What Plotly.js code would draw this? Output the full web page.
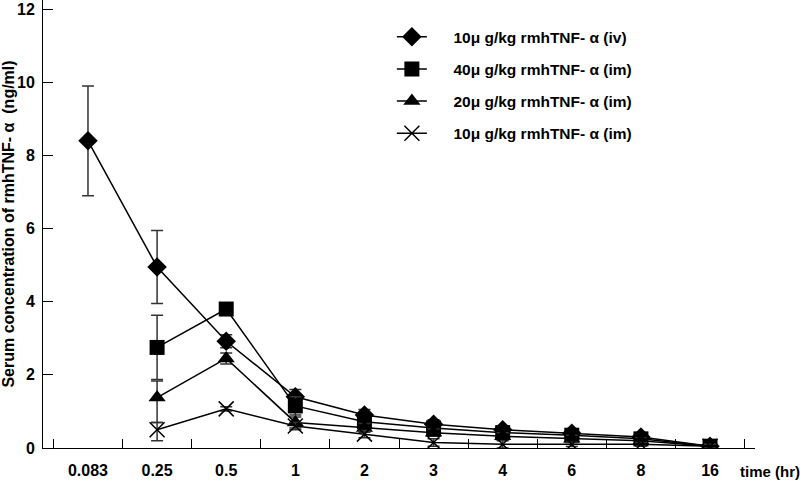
<!DOCTYPE html>
<html>
<head>
<meta charset="utf-8">
<script src="https://cdn.plot.ly/plotly-3.0.1.min.js"></script>
<style>
  body { margin: 0; background: #fff; }
  #plotArea { width: 800px; height: 484px; }
</style>
</head>
<body>
<div id="plotArea"></div>
<script>
// sampling times (hr), shown as categories
var times = ["0.083", "0.25", "0.5", "1", "2", "3", "4", "6", "8", "16"];

// serum rmhTNF-a (ng/ml), mean and error
var iv10 = [8.4, 4.95, 2.92, 1.4, 0.9, 0.65, 0.5, 0.4, 0.3, 0.05];
var iv10Err = [1.5, 1.0, 0.18, 0.2, 0.15, 0.12, 0.1, 0.1, 0.1, 0.05];

var im40 = [null, 2.75, 3.8, 1.15, 0.72, 0.55, 0.42, 0.35, 0.25, 0.05];
var im40Err = [null, 0.88, 0.1, 0.25, 0.15, 0.12, 0.1, 0.1, 0.1, 0.05];

var im20 = [null, 1.38, 2.45, 0.7, 0.55, 0.42, 0.32, 0.25, 0.2, 0.05];
var im20Err = [null, 0.45, 0.15, 0.15, 0.12, 0.1, 0.1, 0.1, 0.08, 0.05];
var im20ErrMinus = [null, 0.68, 0.15, 0.15, 0.12, 0.1, 0.1, 0.1, 0.08, 0.05];

var im10 = [null, 0.5, 1.07, 0.6, 0.38, 0.15, 0.1, 0.1, 0.1, 0.05];
var im10Err = [null, 0.2, 0.06, 0.1, 0.1, 0.1, 0.1, 0.06, 0.05, 0.05];
var im10ErrMinus = [null, 0.3, 0.06, 0.1, 0.1, 0.1, 0.1, 0.06, 0.05, 0.05];

var pad = "\u00a0\u00a0\u00a0\u00a0\u00a0";
var names = [
  pad + "10\u03bc g/kg rmhTNF- \u03b1 (iv)",
  pad + "40\u03bc g/kg rmhTNF- \u03b1 (im)",
  pad + "20\u03bc g/kg rmhTNF- \u03b1 (im)",
  pad + "10\u03bc g/kg rmhTNF- \u03b1 (im)"
];

var font = { family: "Liberation Sans, Arial, sans-serif", color: "#000", weight: "bold" };

function makeTrace(y, err, errMinus, name, symbol, size, group) {
  return {
    x: times,
    y: y,
    name: name,
    legendgroup: group,
    type: "scatter",
    mode: "lines+markers",
    line: { color: "#000", width: 1.5 },
    marker: {
      symbol: symbol,
      size: size,
      color: "#000",
      line: { color: "#000", width: symbol === "x-thin" ? 1.5 : 0 }
    },
    error_y: {
      type: "data",
      symmetric: false,
      array: err,
      arrayminus: errMinus,
      visible: true,
      color: "#333",
      thickness: 1.5,
      width: 6
    }
  };
}

var data = [
  makeTrace(iv10, iv10Err, iv10Err, names[0], "diamond", 15, "a"),
  makeTrace(im40, im40Err, im40Err, names[1], "square", 15, "b"),
  makeTrace(im20, im20Err, im20ErrMinus, names[2], "triangle-up", 15, "c"),
  makeTrace(im10, im10Err, im10ErrMinus, names[3], "x-thin", 15, "d")
];

var layout = {
  width: 800,
  height: 484,
  margin: { l: 43, r: 45, t: 0, b: 36 },
  paper_bgcolor: "#fff",
  plot_bgcolor: "#fff",
  showlegend: true,
  legend: {
    x: 0.49,
    y: 0.955,
    xanchor: "left",
    yanchor: "top",
    font: Object.assign({}, font, { size: 15.5 }),
    bgcolor: "rgba(0,0,0,0)",
    tracegroupgap: 9,
    traceorder: "grouped"
  },
  xaxis: {
    type: "category",
    tickson: "boundaries",
    ticks: "inside",
    ticklen: 9,
    tickcolor: "#000",
    showline: true,
    linecolor: "#000",
    linewidth: 1,
    showgrid: false,
    zeroline: false,
    ticklabelstandoff: 8,
    tickfont: Object.assign({}, font, { size: 16 }),
    fixedrange: true
  },
  yaxis: {
    range: [0, 12.25],
    tickvals: [0, 2, 4, 6, 8, 10, 12],
    ticks: "inside",
    ticklen: 10,
    tickcolor: "#000",
    showline: true,
    linecolor: "#000",
    linewidth: 1,
    showgrid: false,
    zeroline: false,
    ticklabelstandoff: 4,
    tickfont: Object.assign({}, font, { size: 16 }),
    title: {
      text: "Serum concentration of rmhTNF- \u03b1  (ng/ml)",
      font: Object.assign({}, font, { size: 16 }),
      standoff: 3
    },
    fixedrange: true
  },
  annotations: [
    {
      text: "time (hr)",
      xref: "paper",
      yref: "paper",
      x: 0.976,
      y: -0.052,
      xanchor: "left",
      yanchor: "middle",
      showarrow: false,
      font: Object.assign({}, font, { size: 15 })
    }
  ]
};

Plotly.newPlot("plotArea", data, layout, { displayModeBar: false, staticPlot: true });
</script>
</body>
</html>
